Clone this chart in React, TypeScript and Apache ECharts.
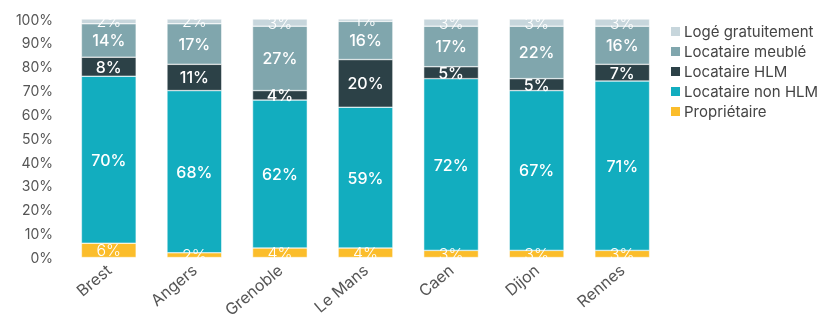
import React, { useEffect, useRef } from "react";
import * as echarts from "echarts";

const cities = ["Brest", "Angers", "Grenoble", "Le Mans", "Caen", "Dijon", "Rennes"];
const proprietaire = [6, 2, 4, 4, 3, 3, 3];
const locataireNonHLM = [70, 68, 62, 59, 72, 67, 71];
const locataireHLM = [8, 11, 4, 20, 5, 5, 7];
const locataireMeuble = [14, 17, 27, 16, 17, 22, 16];
const logeGratuitement = [2, 2, 3, 1, 3, 3, 3];
const yTicks = [0, 10, 20, 30, 40, 50, 60, 70, 80, 90, 100];

const FONT = "Inter, 'Noto Sans', sans-serif";

export default function App() {
  const ref = useRef<HTMLDivElement>(null);
  useEffect(() => {
    if (!ref.current) return;
    const chart = echarts.init(ref.current, null, { renderer: "svg" });
    const mk = (name: string, data: number[], color: string, weight: any) => ({
      name,
      type: "bar",
      stack: "total",
      data,
      barCategoryGap: "36%",
      itemStyle: { color, borderColor: "#ffffff", borderWidth: 0.5 },
      label: {
        show: true,
        position: "inside",
        formatter: "{c}%",
        color: "#ffffff",
        fontSize: 16,
        fontWeight: weight,
        fontFamily: FONT,
      },
    });
    chart.setOption({
      animation: false,
      textStyle: { fontFamily: FONT },
      grid: { left: 66, right: 172, top: 19, bottom: 62, containLabel: false },
      legend: {
        orient: "vertical",
        left: 664,
        top: 19,
        itemWidth: 11,
        itemHeight: 11,
        itemGap: 5,
        icon: "rect",
        data: ["Logé gratuitement", "Locataire meublé", "Locataire HLM", "Locataire non HLM", "Propriétaire"],
        textStyle: { fontSize: 15, color: "#444", fontFamily: FONT, padding: [0, 0, 0, -2] },
      },
      xAxis: {
        type: "category",
        data: cities,
        axisLine: { show: false },
        axisTick: { show: false },
        axisLabel: { rotate: 40, fontSize: 16, color: "#555", margin: 10, fontFamily: FONT },
      },
      yAxis: {
        type: "value",
        min: yTicks[0],
        max: yTicks[yTicks.length - 1],
        interval: 10,
        splitLine: { show: false },
        axisLine: { show: false },
        axisTick: { show: false },
        axisLabel: { formatter: "{value}%", fontSize: 14, color: "#555", margin: 13, fontFamily: FONT },
      },
      series: [
        mk("Propriétaire", proprietaire, "#fbbd2b", 300),
        mk("Locataire non HLM", locataireNonHLM, "#12adbf", 500),
        mk("Locataire HLM", locataireHLM, "#2c4147", 500),
        mk("Locataire meublé", locataireMeuble, "#80a6ad", 500),
        mk("Logé gratuitement", logeGratuitement, "#c7d6dc", 300),
      ],
    });
    return () => chart.dispose();
  }, []);
  return <div ref={ref} style={{ position: "fixed", left: 0, top: 0, width: 837, height: 320 }} />;
}
